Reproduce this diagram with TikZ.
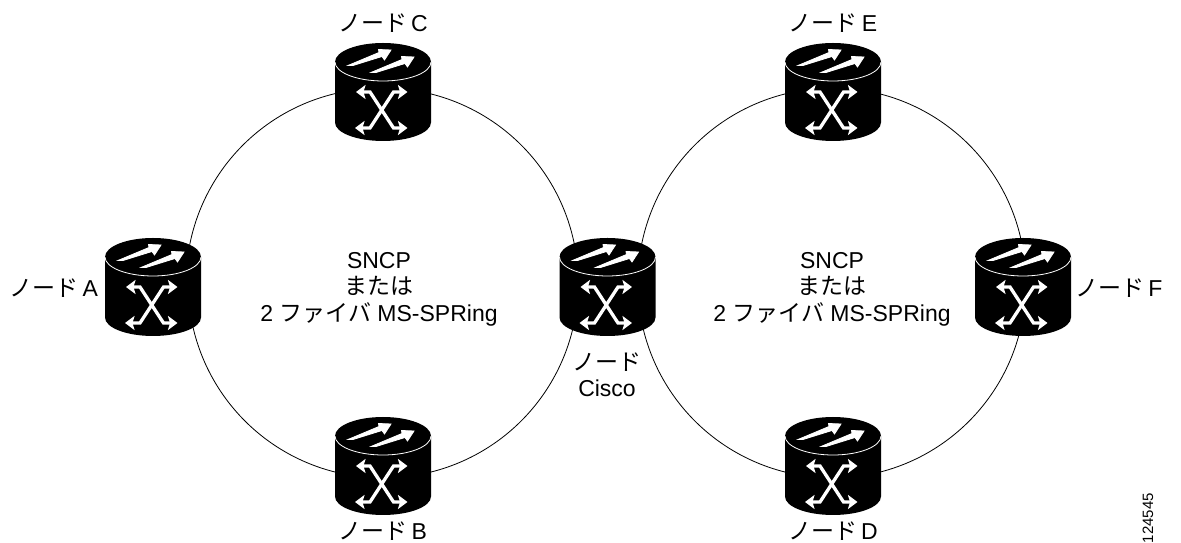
\documentclass[tikz,border=0pt]{standalone}
\usepackage{fontspec}
\setmainfont{Liberation Sans}
\newfontfamily\cjk{Noto Sans CJK JP}
\usetikzlibrary{arrows.meta,backgrounds}

\begin{document}
\begin{tikzpicture}[x=1pt,y=1pt,>={Stealth[length=9.5pt,width=14pt,inset=2pt]}]
    \tikzstyle{ring}=[draw=black,line width=0.8pt,bend left=39,looseness=.96]
    \tikzstyle{label}=[inner sep=0pt,align=center,font=\fontsize{23}{26.5}\selectfont]
    \tikzstyle{router}=[inner sep=0pt,minimum width=98pt,minimum height=100pt,path picture={
      \begin{scope}[shift={(path picture bounding box.center)}]
        \fill[black] (-48,30) arc[x radius=48,y radius=19,start angle=180,end angle=0]
          -- (48,-30.5) arc[x radius=48,y radius=18.5,start angle=0,end angle=-180] -- cycle;
        \draw[white,line width=0.8pt] (-48,30) arc[x radius=48,y radius=19,start angle=180,end angle=360];
        \filldraw[white,line width=0.8pt,line join=miter] (-35,26.5) -- (-4,39.5) -- (-4.5,42.5) -- (8,42) -- (1.5,32) -- (-1,35.5) -- (-30,26.5) -- cycle;
        \filldraw[white,line width=0.8pt,line join=miter] (-12,19.5) -- (19,32.5) -- (18.5,35.5) -- (31,35) -- (24.5,25) -- (22,28.5) -- (-7,19.5) -- cycle;
        \draw[white,line width=3.3pt,<->] (-27,0) -- (-13,0) -- (10.5,-36) -- (24.5,-36);
        \draw[white,line width=3.3pt,<->] (24.5,0) -- (10.5,0) -- (-13,-36) -- (-28,-36);
      \end{scope}}]
    \useasboundingbox (0,0) rectangle (1181,543);

    % left ring
    \node[router](nodeA) at (153,256){};
    \node[router](nodeC) at (383,451){};
    \node[router](nodeB) at (383,77){};
    \node[router](nodeCisco) at (607.5,256){};
    % right ring
    \node[router](nodeE) at (833,451){};
    \node[router](nodeF) at (1023,256){};
    \node[router](nodeD) at (833,77){};

    \begin{pgfonlayer}{background}
      \draw[ring] ([shift={(34,24)}]nodeA.center) to ([shift={(-24,2.5)}]nodeC.center);
      \draw[ring] ([shift={(24,2.5)}]nodeC.center) to ([shift={(-30,21)}]nodeCisco.center);
      \draw[ring] ([shift={(-30,-13)}]nodeCisco.center) to ([shift={(24,-10.5)}]nodeB.center);
      \draw[ring] ([shift={(-24,-10.5)}]nodeB.center) to ([shift={(35.7,-13)}]nodeA.center);
      \draw[ring] ([shift={(31,21)}]nodeCisco.center) to ([shift={(-24,2.5)}]nodeE.center);
      \draw[ring] ([shift={(24,2.5)}]nodeE.center) to ([shift={(2,21)}]nodeF.center);
      \draw[ring] ([shift={(2,-13)}]nodeF.center) to ([shift={(24,-10.5)}]nodeD.center);
      \draw[ring] ([shift={(-24,-10.5)}]nodeD.center) to ([shift={(31,-13)}]nodeCisco.center);
    \end{pgfonlayer}

    \node[label](labelC) at (383,520){{\cjk ノード}\,C};
    \node[label](labelE) at (833,520){{\cjk ノード}\,E};
    \node[label](labelA) at (54,255){{\cjk ノード}\,A};
    \node[label](labelF) at (1119,255){{\cjk ノード}\,F};
    \node[label](labelB) at (383,11.5){{\cjk ノード}\,B};
    \node[label](labelD) at (833,11.5){{\cjk ノード}\,D};
    \node[label](labelCisco) at (607,168){{\cjk ノード}\\Cisco};
    \node[label](ringL) at (379,254){SNCP\\{\cjk または}\\2 {\cjk ファイバ} MS-SPRing};
    \node[label](ringR) at (832,254){SNCP\\{\cjk または}\\2 {\cjk ファイバ} MS-SPRing};
    \node[inner sep=0pt,rotate=90,anchor=east,font=\fontsize{15}{17}\selectfont](figid) at (1148,50){124545};
\end{tikzpicture}
\end{document}
